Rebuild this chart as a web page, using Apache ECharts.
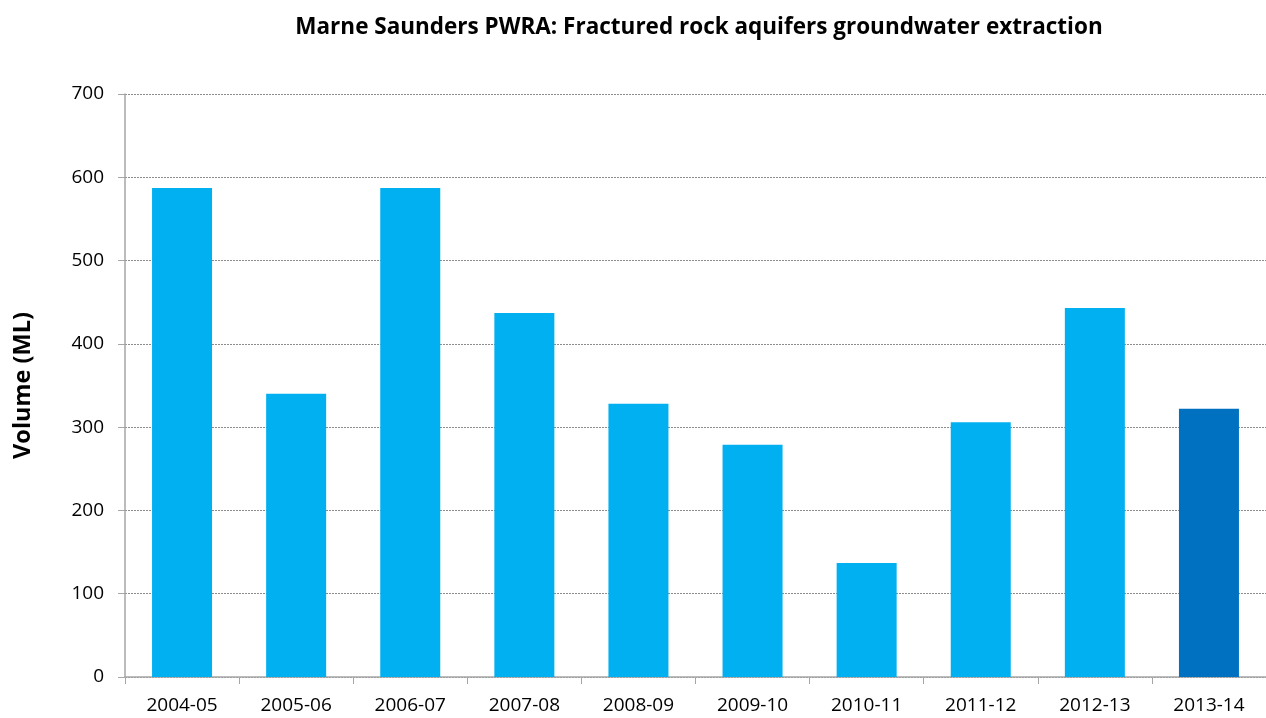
<!DOCTYPE html>
<html>
<head>
<meta charset="utf-8">
<script src="https://cdn.jsdelivr.net/npm/echarts@6/dist/echarts.min.js"></script>
<style>html,body{margin:0;padding:0;background:#fff}#c{width:1266px;height:718px}</style>
</head>
<body>
<div id="c"></div>
<script>
const categories = ['2004-05','2005-06','2006-07','2007-08','2008-09','2009-10','2010-11','2011-12','2012-13','2013-14'];
const volumes = [587, 340, 587, 437, 328, 279, 137, 306, 443, 322];
const barColors = ['#00B0F0','#00B0F0','#00B0F0','#00B0F0','#00B0F0','#00B0F0','#00B0F0','#00B0F0','#00B0F0','#0070C0'];
const yTicks = [0,100,200,300,400,500,600,700];

const font = '"Open Sans", Lato, sans-serif';
const chart = echarts.init(document.getElementById('c'), null, {renderer:'canvas'});
chart.setOption({
  animation: false,
  title: {
    text: 'Marne Saunders PWRA: Fractured rock aquifers groundwater extraction',
    left: 694, top: 11, textAlign: 'center',
    textStyle: {fontFamily: font, fontWeight: 'bold', fontSize: 22.5, color: '#000'}
  },
  grid: {left: 125, right: 0, top: 94, bottom: 41, containLabel: false},
  xAxis: {
    type: 'category', data: categories,
    axisLine: {lineStyle: {color: '#A6A6A6', width: 1.5}},
    axisTick: {show: true, length: 7, lineStyle: {color: '#A6A6A6'}},
    axisLabel: {fontFamily: font, fontSize: 19, color: '#000', margin: 19}
  },
  yAxis: {
    type: 'value', min: yTicks[0], max: yTicks[yTicks.length-1], interval: 100,
    name: 'Volume (ML)', nameLocation: 'middle', nameGap: 90, nameRotate: 90,
    nameTextStyle: {fontFamily: font, fontWeight: 'bold', fontSize: 23.5, color: '#000'},
    axisLine: {show: true, lineStyle: {color: '#A6A6A6', width: 1.5}},
    axisTick: {show: true, length: 7, lineStyle: {color: '#A6A6A6'}},
    axisLabel: {fontFamily: font, fontSize: 19, color: '#000', margin: 21},
    splitLine: {lineStyle: {color: '#8C8C8C', type: [2,1], width: 1}}
  },
  series: [{
    type: 'bar', barWidth: 60,
    data: volumes.map((v,i)=>({value:v, itemStyle:{color:barColors[i]}}))
  }]
});
</script>
</body>
</html>
